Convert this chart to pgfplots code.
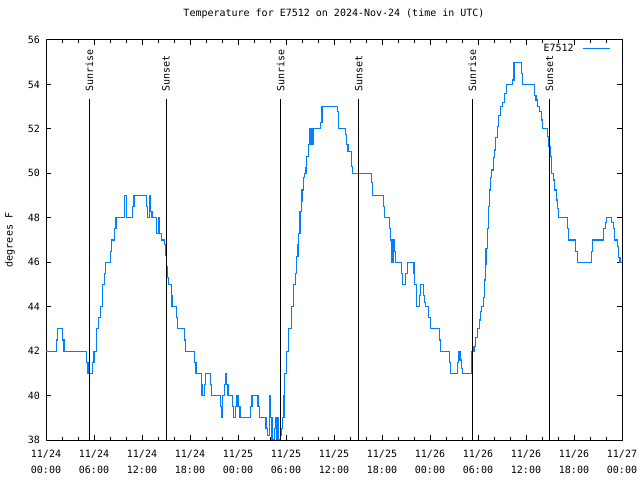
\documentclass[border=0pt]{standalone}
\usepackage{fontspec}
\setmainfont{DejaVu Sans Mono}
\usepackage{pgfplots}
\pgfplotsset{compat=1.18}
\definecolor{gblue}{RGB}{0,128,255}
\newcommand{\gf}{\fontsize{10bp}{16bp}\selectfont}
\begin{document}
\begin{tikzpicture}
\path[use as bounding box] (0,0) rectangle (640bp,480bp);
\begin{axis}[
  at={(46bp,40bp)}, anchor=south west,
  scale only axis, width=576bp, height=400bp,
  xmin=0, xmax=72, ymin=38, ymax=56,
  xtick={0,6,...,72},
  xticklabels={{11/24\\00:00},{11/24\\06:00},{11/24\\12:00},{11/24\\18:00},{11/25\\00:00},{11/25\\06:00},{11/25\\12:00},{11/25\\18:00},{11/26\\00:00},{11/26\\06:00},{11/26\\12:00},{11/26\\18:00},{11/27\\00:00}},
  minor x tick num=2,
  ytick={38,40,...,56},
  /pgf/number format/assume math mode=true,
  tick align=inside,
  major tick length=5bp, minor tick length=3bp,
  tick style={black, line width=1bp},
  axis line style={black, line width=1bp},
  x tick label style={font=\gf, align=center, anchor=north, inner sep=0pt, yshift=-9.5bp},
  y tick label style={font=\gf, anchor=east, inner sep=0pt, xshift=-6bp},
  title={Temperature for E7512 on 2024-Nov-24 (time in UTC)},
  title style={font=\gf, at={(axis description cs:0.5,1)}, anchor=center, yshift=20bp},
  ylabel={degrees F},
  ylabel style={font=\gf, at={(axis description cs:-0.0625,0.5)}, anchor=center},
  legend style={font=\gf, at={(1,1)}, anchor=north east, draw=none, fill=none, xshift=-10bp, yshift=-1bp, inner sep=1bp},
  legend plot pos=right,
  legend cell align=right,
  legend image code/.code={\draw[#1] (0bp,0bp) -- (27bp,0bp);},
]
\addplot[const plot, gblue, line width=1.2bp] table {
t v
0 42
1.35 42.5
1.45 43
2.1 42.5
2.25 42
5.05 41.5
5.25 41
5.85 41.5
6.0 42
6.3 43
6.6 43.5
6.85 44
7.1 45
7.3 45.5
7.45 46
8.05 46.5
8.2 47
8.55 47.5
8.75 48
9.85 49
10.05 48
10.85 48.5
11.0 49
12.55 48.5
12.7 48
12.95 49
13.1 48.3
13.25 48
13.85 47.3
14.1 48
14.2 47.3
14.4 47
14.85 46.8
14.95 46.3
15.05 45.8
15.15 45.3
15.35 45
15.65 44.5
15.75 44
16.35 43.5
16.45 43
17.3 42.5
17.45 42
18.55 41.5
18.75 41
19.4 40.5
19.5 40
19.8 40.5
19.95 41
20.55 40.5
20.7 40
21.85 39.5
21.95 39
22.1 40
22.3 40.5
22.4 41
22.6 40.5
22.75 40
23.35 39.5
23.45 39
23.65 39.5
23.8 40
24.0 39.5
24.25 39
25.6 39.5
25.75 40
26.5 39.5
26.7 39
27.5 38.5
27.7 38.2
27.9 39
28.0 40
28.1 39
28.25 38
28.55 38.5
28.7 39
28.85 38
29.0 39
29.1 38
29.3 38.2
29.45 38.5
29.6 39
29.75 40
29.85 41
30.05 42
30.35 43
30.65 44
30.95 45
31.2 45.5
31.33 46.25
31.5 46.8
31.6 47.3
31.75 48.3
31.9 48.75
32.0 49.25
32.2 49.8
32.33 50
32.5 50.25
32.6 50.75
32.8 51.3
32.9 52
32.95 51.3
33.05 52
33.1 51.3
33.2 52
33.3 51.3
33.4 52
34.3 52.3
34.5 53
36.4 52.8
36.55 52
37.4 51.75
37.55 51.3
37.75 51
38.2 50.3
38.35 50
40.7 49.6
40.85 49
42.15 48.5
42.3 48
42.95 47.5
43.1 47
43.25 46
43.4 47
43.6 46.5
43.7 46
44.45 45.5
44.55 45
44.95 45.5
45.15 46
46.0 45.5
46.1 45
46.3 44
46.7 44.5
46.85 45
47.2 44.5
47.3 44.2
47.45 44
47.8 43.5
48.05 43
49.2 42.5
49.35 42
50.4 41.5
50.55 41
51.4 41.5
51.55 42
51.75 41.6
51.9 41.2
52.05 41
53.25 42
53.5 42.2
53.65 42.6
53.9 43
54.15 43.4
54.3 43.8
54.45 44
54.7 44.4
54.8 45.2
54.9 45.9
55.0 46.6
55.15 47.5
55.3 48.5
55.45 49.25
55.55 49.8
55.7 50.15
55.9 50.7
56.05 51.05
56.2 51.6
56.4 52.1
56.6 52.6
56.85 53
57.05 53.2
57.3 53.6
57.55 54
58.35 54.2
58.5 55
59.45 54.5
59.55 54
61.1 53.5
61.25 53.3
61.4 53
61.7 52.8
61.9 52.4
62.1 52
62.7 51.65
62.85 51.2
63.0 50.75
63.2 50
63.4 49.7
63.6 49.25
63.8 48.8
63.95 48.4
64.05 48
65.2 47.5
65.35 47
66.2 46.5
66.4 46
68.2 46.5
68.35 47
69.7 47.5
69.9 47.8
70.1 48
70.7 47.8
70.9 47.5
71.1 47
71.4 46.7
71.6 46.2
71.75 46
72 46
};
\addlegendentry{E7512\hspace*{7bp}}
\addplot[black, line width=1bp, forget plot] coordinates {(5.41,38) (5.41,53.33)};
\addplot[black, line width=1bp, forget plot] coordinates {(15.0,38) (15.0,53.33)};
\addplot[black, line width=1bp, forget plot] coordinates {(29.33,38) (29.33,53.33)};
\addplot[black, line width=1bp, forget plot] coordinates {(39.08,38) (39.08,53.33)};
\addplot[black, line width=1bp, forget plot] coordinates {(53.3,38) (53.3,53.33)};
\addplot[black, line width=1bp, forget plot] coordinates {(62.92,38) (62.92,53.33)};
\node[font=\gf, rotate=90, anchor=west, inner sep=0pt] at (axis cs:5.41,53.66) {Sunrise};
\node[font=\gf, rotate=90, anchor=west, inner sep=0pt] at (axis cs:15.0,53.66) {Sunset};
\node[font=\gf, rotate=90, anchor=west, inner sep=0pt] at (axis cs:29.33,53.66) {Sunrise};
\node[font=\gf, rotate=90, anchor=west, inner sep=0pt] at (axis cs:39.08,53.66) {Sunset};
\node[font=\gf, rotate=90, anchor=west, inner sep=0pt] at (axis cs:53.3,53.66) {Sunrise};
\node[font=\gf, rotate=90, anchor=west, inner sep=0pt] at (axis cs:62.92,53.66) {Sunset};
\end{axis}
\end{tikzpicture}
\end{document}
